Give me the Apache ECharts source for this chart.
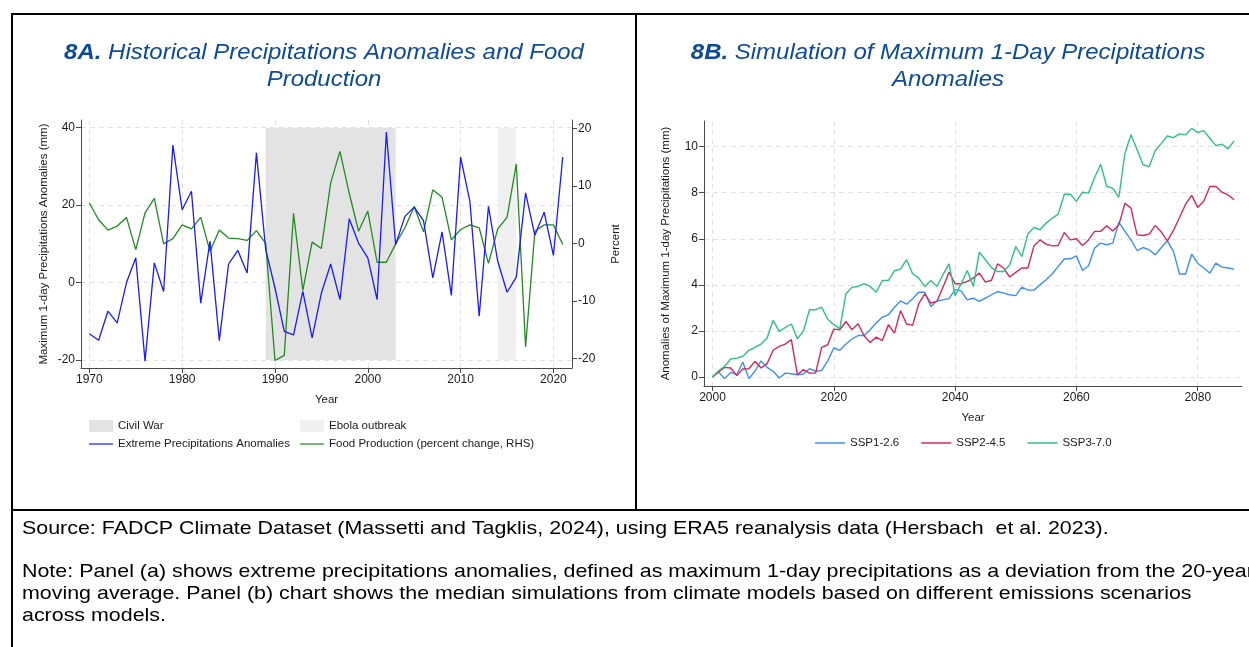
<!DOCTYPE html>
<html><head><meta charset="utf-8">
<script src="https://cdn.jsdelivr.net/npm/echarts@6/dist/echarts.min.js"></script>
<style>html,body{margin:0;padding:0;background:#fff}#c{width:1249px;height:647px}</style>
</head><body><div id="c"></div>
<script>
// ---------- Panel A data ----------
const yearsA = [1970,1971,1972,1973,1974,1975,1976,1977,1978,1979,1980,1981,1982,1983,1984,1985,1986,1987,1988,1989,
  1990,1991,1992,1993,1994,1995,1996,1997,1998,1999,2000,2001,2002,2003,2004,2005,2006,2007,2008,2009,
  2010,2011,2012,2013,2014,2015,2016,2017,2018,2019,2020,2021];
const precipA = [-13.2,-14.9,-7.4,-10.4,0.0,6.4,-20.3,5.1,-2.3,35.5,18.8,23.6,-5.3,10.7,-15.0,4.8,8.3,2.5,33.5,8.5,
  -1.4,-12.6,-13.5,-2.3,-14.3,-2.7,4.8,-4.4,16.5,10.2,6.4,-4.4,38.9,9.8,17.1,19.5,16.0,1.2,13.1,-3.3,
  32.4,21.0,-8.7,19.7,5.5,-2.5,1.4,23.2,12.2,18.2,7.0,32.4];
const foodA = [7.0,4.1,2.3,3.0,4.5,-1.1,5.3,7.8,-0.1,0.8,3.2,2.5,4.5,-1.4,2.3,0.9,0.8,0.5,2.2,0.0,
  -20.4,-19.5,5.2,-8.2,0.2,-0.9,10.5,16.0,8.7,2.1,5.6,-3.3,-3.3,-0.1,2.7,6.4,2.0,9.3,8.0,0.6,
  2.4,3.2,2.7,-3.5,2.5,4.5,13.8,-18.0,2.1,3.2,3.2,-0.2];
const civilWar = [1989, 2003];
const ebola = [2014, 2016];
const xTicksA = [1970,1980,1990,2000,2010,2020];
const yTicksLeftA = [-20,0,20,40];
const yTicksRightA = [-20,-10,0,10,20];

// ---------- Panel B data ----------
const yearsB = [2000,2001,2002,2003,2004,2005,2006,2007,2008,2009,2010,2011,2012,2013,2014,2015,2016,2017,2018,2019,
  2020,2021,2022,2023,2024,2025,2026,2027,2028,2029,2030,2031,2032,2033,2034,2035,2036,2037,2038,2039,
  2040,2041,2042,2043,2044,2045,2046,2047,2048,2049,2050,2051,2052,2053,2054,2055,2056,2057,2058,2059,
  2060,2061,2062,2063,2064,2065,2066,2067,2068,2069,2070,2071,2072,2073,2074,2075,2076,2077,2078,2079,
  2080,2081,2082,2083,2084,2085,2086];
const ssp126 = [0,0.22,-0.07,0.2,0.1,0.65,-0.07,0.25,0.7,0.42,0.25,-0.04,0.17,0.14,0.1,0.13,0.36,0.25,0.29,0.7,
  1.26,1.16,1.43,1.65,1.8,1.8,2.05,2.34,2.6,2.7,3.03,3.3,3.16,3.4,3.68,3.68,3.06,3.3,3.35,3.4,
  3.79,3.74,3.35,3.42,3.28,3.42,3.57,3.71,3.64,3.57,3.53,3.9,3.77,3.77,4.0,4.22,4.47,4.8,5.12,5.13,
  5.26,4.62,4.83,5.6,5.81,5.74,5.81,6.72,6.32,5.95,5.49,5.62,5.52,5.3,5.62,5.91,5.45,4.47,4.47,5.33,
  4.94,4.73,4.51,4.94,4.77,4.73,4.68];
const ssp245 = [0,0.22,0.42,0.39,0.06,0.35,0.36,0.68,0.39,0.58,1.16,1.33,1.43,1.62,0.1,0.32,0.17,0.17,1.29,1.4,
  2.08,2.05,2.41,2.05,2.31,1.79,1.5,1.73,1.58,2.27,1.91,2.88,2.3,2.24,3.18,3.61,3.21,3.28,3.9,4.55,
  4.05,4.05,4.15,4.29,4.51,4.12,4.2,4.91,4.73,4.34,4.54,4.73,4.73,5.69,5.95,5.77,5.69,5.71,6.27,5.95,
  6.0,5.71,5.95,6.32,6.32,6.56,6.34,6.6,7.54,7.33,6.17,6.14,6.2,6.58,6.29,5.91,6.36,6.92,7.5,7.88,
  7.36,7.64,8.27,8.27,8.02,7.9,7.69];
const ssp370 = [0,0.27,0.46,0.78,0.82,0.9,1.16,1.29,1.43,1.69,2.46,1.98,2.15,2.3,1.66,2.0,2.92,2.92,3.03,2.51,
  2.27,2.1,3.61,3.89,3.93,4.05,3.93,3.68,4.19,4.19,4.61,4.68,5.09,4.48,4.29,3.93,4.19,3.93,4.44,4.91,
  3.53,4.05,4.62,3.93,5.42,5.09,4.75,4.58,4.58,4.87,5.66,5.23,6.21,6.49,6.39,6.68,6.89,7.07,7.93,7.93,
  7.62,8.02,7.98,8.66,9.23,8.27,8.19,7.8,9.71,10.51,9.86,9.21,9.13,9.83,10.14,10.46,10.39,10.55,10.51,10.79,
  10.61,10.69,10.36,10.04,10.1,9.9,10.25];
const xTicksB = [2000,2020,2040,2060,2080];
const yTicksB = [0,2,4,6,8,10];

// ---------- text ----------
const titleA1 = 'Historical Precipitations Anomalies and Food';
const titleA2 = 'Production';
const titleB1 = 'Simulation of Maximum 1-Day Precipitations';
const titleB2 = 'Anomalies';
const sourceText = 'Source: FADCP Climate Dataset (Massetti and Tagklis, 2024), using ERA5 reanalysis data (Hersbach  et al. 2023).';
const noteLines = [
  'Note: Panel (a) shows extreme precipitations anomalies, defined as maximum 1-day precipitations as a deviation from the 20-year',
  'moving average. Panel (b) chart shows the median simulations from climate models based on different emissions scenarios',
  'across models.'
];

const FONT = '"Liberation Sans", Arial, sans-serif';
const TXT = '#1a1a1a';
const AX = {color:'#4a4a4a', width:1};
const GRIDL = {show:true, lineStyle:{color:'#e2e2e2', type:[5,4], width:1}};
const TITLE_BLUE = '#0d4a97';
const LINE_ICON = 'path://M0,0L40,0L40,2L0,2Z';
const pair = (xs, ys) => xs.map((x,i)=>[x, ys[i]]);
const fmt = v => String(v);

function titleGraphic(x, l1, l2, tag){
  const base = {fontFamily: FONT, fontSize: 22, lineHeight: 27, fill: TITLE_BLUE, fontStyle: 'italic'};
  return {
    type: 'text', x: x, y: 39, scaleX: 1.09,
    style: Object.assign({}, base, {
      text: '{b|' + tag + '} {t|' + l1 + '}\n{t|' + l2 + '}',
      align: 'center', verticalAlign: 'top', fontWeight: 'normal',
      rich: {
        b: Object.assign({}, base, {fontWeight: 'bold'}),
        t: Object.assign({}, base, {fontWeight: 'normal'})
      }
    })
  };
}

const legendText = {fontSize:11.5, color:TXT, fontFamily:FONT};

const chart = echarts.init(document.getElementById('c'), null, {renderer:'canvas'});
const option = {
  animation: false,
  backgroundColor: '#fff',
  textStyle: {fontFamily: FONT},
  grid: [
    {left: 81, top: 120, width: 491, height: 248},
    {left: 704, top: 121, width: 538, height: 265}
  ],
  xAxis: [
    {type:'value', gridIndex:0, min:1969.1, max:2022,
     name:'Year', nameLocation:'middle', nameGap:26, nameTextStyle:{fontSize:11.5, color:TXT},
     axisLine:{show:true, onZero:false, lineStyle:AX},
     axisTick:{show:true, length:5, customValues:xTicksA, lineStyle:AX},
     axisLabel:{customValues:xTicksA, formatter:fmt, fontSize:12, color:TXT, margin:6},
     splitLine:GRIDL},
    {type:'value', gridIndex:1, min:1998.6, max:2087.3,
     name:'Year', nameLocation:'middle', nameGap:26, nameTextStyle:{fontSize:11.5, color:TXT},
     axisLine:{show:true, onZero:false, lineStyle:AX},
     axisTick:{show:true, length:5, customValues:xTicksB, lineStyle:AX},
     axisLabel:{customValues:xTicksB, formatter:fmt, fontSize:12, color:TXT, margin:6},
     splitLine:GRIDL}
  ],
  yAxis: [
    {type:'value', gridIndex:0, position:'left', min:-22.07, max:42,
     name:'Maximum 1-day Precipitations Anomalies (mm)', nameLocation:'middle', nameGap:31, nameRotate:90,
     nameTextStyle:{fontSize:11.5, color:TXT},
     axisLine:{show:true, onZero:false, lineStyle:AX},
     axisTick:{show:true, length:5, customValues:yTicksLeftA, lineStyle:AX},
     axisLabel:{customValues:yTicksLeftA, formatter:fmt, fontSize:12, color:TXT, margin:6},
     splitLine:GRIDL},
    {type:'value', gridIndex:0, position:'right', min:-21.7, max:21.45,
     name:'Percent', nameLocation:'middle', nameGap:38, nameRotate:90,
     nameTextStyle:{fontSize:11.5, color:TXT},
     axisLine:{show:true, onZero:false, lineStyle:AX},
     axisTick:{show:true, length:5, customValues:yTicksRightA, lineStyle:AX},
     axisLabel:{customValues:yTicksRightA, formatter:fmt, fontSize:12, color:TXT, margin:6},
     splitLine:{show:false}},
    {type:'value', gridIndex:1, position:'left', min:-0.39, max:11.11,
     name:'Anomalies of Maximum 1-day Precipitations (mm)', nameLocation:'middle', nameGap:32, nameRotate:90,
     nameTextStyle:{fontSize:11.5, color:TXT},
     axisLine:{show:true, onZero:false, lineStyle:AX},
     axisTick:{show:true, length:5, customValues:yTicksB, lineStyle:AX},
     axisLabel:{customValues:yTicksB, formatter:fmt, fontSize:12, color:TXT, margin:6},
     splitLine:GRIDL}
  ],
  legend: [
    {orient:'vertical', left:89, top:420, padding:0, itemWidth:24, itemHeight:12, itemGap:6, selectedMode:false,
     symbolKeepAspect:true, textStyle:legendText,
     data:[{name:'Civil War', icon:'rect'}, {name:'Extreme Precipitations Anomalies', icon:LINE_ICON}]},
    {orient:'vertical', left:300, top:420, padding:0, itemWidth:24, itemHeight:12, itemGap:6, selectedMode:false,
     symbolKeepAspect:true, textStyle:legendText,
     data:[{name:'Ebola outbreak', icon:'rect'}, {name:'Food Production (percent change, RHS)', icon:LINE_ICON}]},
    {orient:'horizontal', left:815, top:437, padding:0, itemWidth:30, itemHeight:12, itemGap:22, selectedMode:false,
     symbolKeepAspect:true, textStyle:legendText,
     data:[{name:'SSP1-2.6', icon:LINE_ICON},{name:'SSP2-4.5', icon:LINE_ICON},{name:'SSP3-7.0', icon:LINE_ICON}]}
  ],
  series: [
    {name:'Civil War', type:'line', xAxisIndex:0, yAxisIndex:0, data:[], symbol:'none',
     color:'#e3e3e3', itemStyle:{color:'#e3e3e3'},
     markArea:{silent:true, itemStyle:{color:'#e3e3e3'}, data:[[{coord:[civilWar[0],-20]},{coord:[civilWar[1],40]}]]}},
    {name:'Ebola outbreak', type:'line', xAxisIndex:0, yAxisIndex:0, data:[], symbol:'none',
     color:'#f0f0f0', itemStyle:{color:'#f0f0f0'},
     markArea:{silent:true, itemStyle:{color:'#f0f0f0'}, data:[[{coord:[ebola[0],-20]},{coord:[ebola[1],40]}]]}},
    {name:'Extreme Precipitations Anomalies', type:'line', xAxisIndex:0, yAxisIndex:0,
     data:pair(yearsA, precipA), symbol:'none', color:'#1a1aff', lineStyle:{width:1.3, color:'#1a1aff'}, z:4},
    {name:'Food Production (percent change, RHS)', type:'line', xAxisIndex:0, yAxisIndex:1,
     data:pair(yearsA, foodA), symbol:'none', color:'#218a21', lineStyle:{width:1.3, color:'#218a21'}, z:3},
    {name:'SSP1-2.6', type:'line', xAxisIndex:1, yAxisIndex:2, data:pair(yearsB, ssp126), symbol:'none',
     color:'#3d8ff2', lineStyle:{width:1.4, color:'#3d8ff2'}},
    {name:'SSP2-4.5', type:'line', xAxisIndex:1, yAxisIndex:2, data:pair(yearsB, ssp245), symbol:'none',
     color:'#d6285f', lineStyle:{width:1.4, color:'#d6285f'}},
    {name:'SSP3-7.0', type:'line', xAxisIndex:1, yAxisIndex:2, data:pair(yearsB, ssp370), symbol:'none',
     color:'#2fbf86', lineStyle:{width:1.4, color:'#2fbf86'}}
  ],
  graphic: [
    {type:'line', shape:{x1:12, y1:14, x2:1249, y2:14}, style:{stroke:'#000', lineWidth:2}},
    {type:'line', shape:{x1:12, y1:13, x2:12, y2:647}, style:{stroke:'#000', lineWidth:2}},
    {type:'line', shape:{x1:636, y1:14, x2:636, y2:510}, style:{stroke:'#000', lineWidth:2}},
    {type:'line', shape:{x1:12, y1:510, x2:1249, y2:510}, style:{stroke:'#000', lineWidth:2}},
    titleGraphic(324, titleA1, titleA2, '8A.'),
    titleGraphic(948, titleB1, titleB2, '8B.'),
    {type:'text', x:22, y:519, scaleX:1.127,
     style:{text:sourceText, fontFamily:FONT, fontSize:19, fill:'#000', verticalAlign:'top'}},
    {type:'text', x:22, y:561, scaleX:1.127,
     style:{text:noteLines.join('\n'), fontFamily:FONT, fontSize:19, lineHeight:22, fill:'#000', verticalAlign:'top'}}
  ]
};
chart.setOption(option);
</script></body></html>
